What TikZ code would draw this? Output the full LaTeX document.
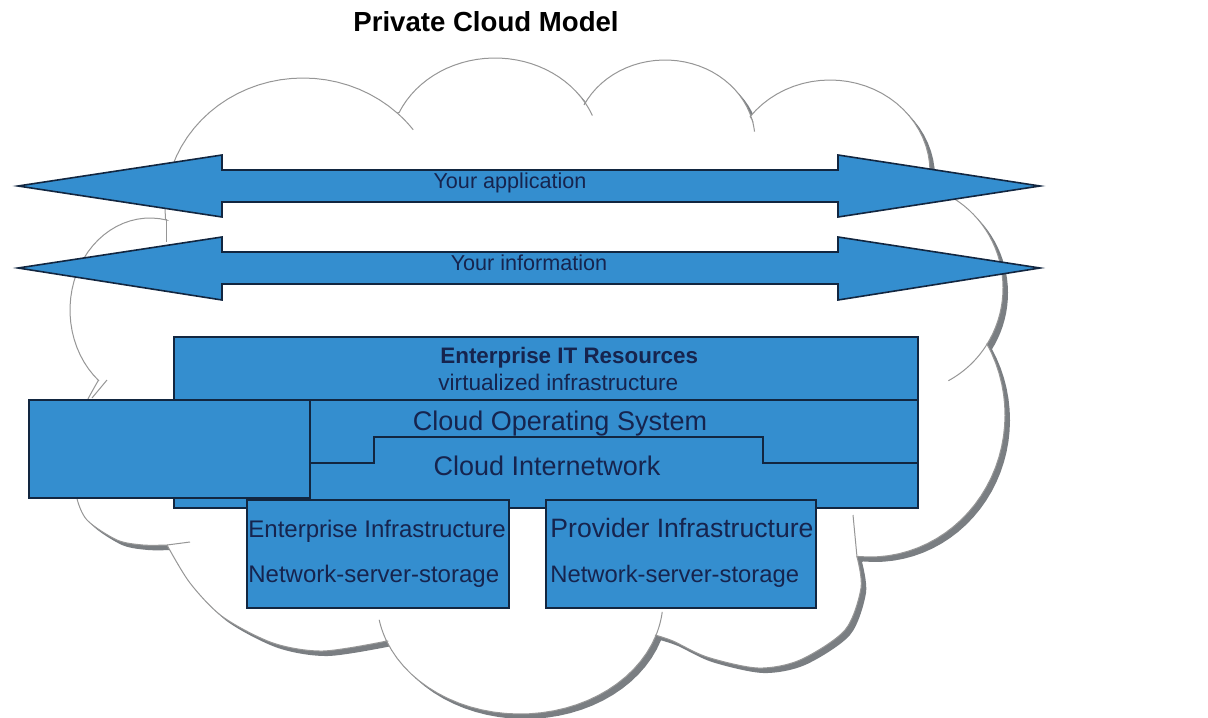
\documentclass[tikz,border=0pt]{standalone}
\usepackage{fontspec}
\setmainfont{Liberation Sans}
\usepackage{tikz}
\definecolor{layerblue}{RGB}{52,142,207}
\definecolor{layerline}{RGB}{18,38,64}
\definecolor{textnavy}{RGB}{22,36,78}
\definecolor{cloudgrey}{RGB}{150,150,150}
\definecolor{shadegrey}{RGB}{122,126,130}

% one bump of the cloud: centre x, centre y, radii, from angle, to angle
\newcommand{\bumparc}[6]{plot[domain=#5:#6, samples=30] ({#1+#3*cos(\x)},{#2-#4*sin(\x)})}
\newcommand{\bumpto}[6]{-- plot[domain=#5:#6, samples=30] ({#1+#3*cos(\x)},{#2-#4*sin(\x)})}

% outline of the cloud, clockwise from the upper left
\newcommand{\cloudoutline}{%
  \bumparc{303}{208}{138}{130}{185}{47}
  \bumpto{495}{150}{105}{92}{156}{31}
  \bumpto{665}{140}{90}{80}{154}{15}
  \bumpto{830}{172}{100}{92}{143}{-10}
  \bumpto{900}{288}{103}{105}{74}{-33}
  \bumpto{870}{415}{135}{142}{30}{-95}
  -- plot[smooth] coordinates {(857,557) (861,588) (845,630) (800,660) (758,668) (707,657) (673,641) (655,635)}
  \bumpto{520}{600}{143}{114}{-18}{-159}
  -- plot[smooth] coordinates {(387,641) (323,651) (273,643) (223,617) (190,583) (167,545)}
  -- plot[smooth] coordinates {(167,545) (143,545) (117,540) (87,520) (76,495) (72,460) (78,420) (98,381)}
  \bumpto{150}{310}{80}{92}{230}{78}
  -- cycle}

\begin{document}
\begin{tikzpicture}[
        x=0.5pt, y=-0.5pt,
        cloudedge/.style={draw=cloudgrey, line width=0.5pt},
        layer/.style={draw=layerline, fill=layerblue, line width=0.8pt},
        divider/.style={draw=layerline, line width=0.8pt},
        bigarrow/.style={draw=layerline, fill=layerblue, line width=0.8pt, line join=miter},
        txt/.style={text=textnavy, inner sep=0pt},
        titletxt/.style={inner sep=0pt, font=\fontsize{13.8}{16}\selectfont\bfseries}
    ]
        \useasboundingbox (0,0) rectangle (1208,717);

        % Title
        \node[titletxt, anchor=base] (title) at (486,32) {Private Cloud Model};

        % Cloud with its shadow
        \fill[shadegrey, shift={(5,5)}] \cloudoutline;
        \fill[white] \cloudoutline;
        \draw[cloudedge] \cloudoutline;
        % short inner arcs where two bumps meet
        \draw[cloudedge] (166,219) -- (166,242);
        \draw[cloudedge] \bumparc{303}{208}{138}{130}{47}{37};
        \draw[cloudedge] \bumparc{495}{150}{105}{92}{31}{22};
        \draw[cloudedge] \bumparc{665}{140}{90}{80}{15}{6};
        \draw[cloudedge] \bumparc{900}{288}{103}{105}{-33}{-62};
        \draw[cloudedge] (857,557) -- (853,515);
        \draw[cloudedge] \bumparc{520}{600}{143}{114}{-18}{-6};
        \draw[cloudedge] \bumparc{520}{600}{143}{114}{-159}{-170};
        \draw[cloudedge] (167,545) -- (190,542);
        \draw[cloudedge] (92,398) -- (107,380);

        % Double arrows
        \draw[bigarrow] (18,186) -- (222,155) -- (222,170) -- (838,170) -- (838,155) -- (1040,186)
            -- (838,217) -- (838,202) -- (222,202) -- (222,217) -- cycle;
        \node[txt, anchor=base, font=\fontsize{10.8}{13}\selectfont] (app) at (510,188) {Your application};

        \draw[bigarrow] (18,268) -- (222,237) -- (222,252) -- (838,252) -- (838,237) -- (1040,268)
            -- (838,300) -- (838,284) -- (222,284) -- (222,300) -- cycle;
        \node[txt, anchor=base, font=\fontsize{10.8}{13}\selectfont] (info) at (529,270) {Your information};

        % Layers
        \draw[layer] (174,337) rectangle (918,508);
        \draw[divider] (310,400) -- (918,400);
        \draw[divider] (310,463) -- (374,463) -- (374,437) -- (763,437) -- (763,463) -- (918,463);
        \draw[layer] (29,400) rectangle (310,498);

        \node[txt, anchor=base west, font=\fontsize{11.2}{13}\selectfont\bfseries] (itres) at (440,363) {Enterprise IT Resources};
        \node[txt, anchor=base west, font=\fontsize{11.3}{13}\selectfont] (virt) at (438,390) {virtualized infrastructure};
        \node[txt, anchor=base, font=\fontsize{13.5}{16}\selectfont] (cos) at (560,430) {Cloud Operating System};
        \node[txt, anchor=base, font=\fontsize{13.5}{16}\selectfont] (cnet) at (547,475) {Cloud Internetwork};

        % Infrastructure boxes
        \draw[layer] (247,500) rectangle (509,608);
        \node[txt, anchor=base west, font=\fontsize{12}{14}\selectfont] (entinf) at (248,537) {Enterprise Infrastructure};
        \node[txt, anchor=base west, font=\fontsize{12}{14}\selectfont] (entnet) at (248,582) {Network-server-storage};

        \draw[layer] (546,500) rectangle (816,608);
        \node[txt, anchor=base west, font=\fontsize{13.3}{16}\selectfont] (provinf) at (550,537) {Provider Infrastructure};
        \node[txt, anchor=base west, font=\fontsize{11.9}{14}\selectfont] (provnet) at (550,582) {Network-server-storage};
    \end{tikzpicture}
\end{document}
